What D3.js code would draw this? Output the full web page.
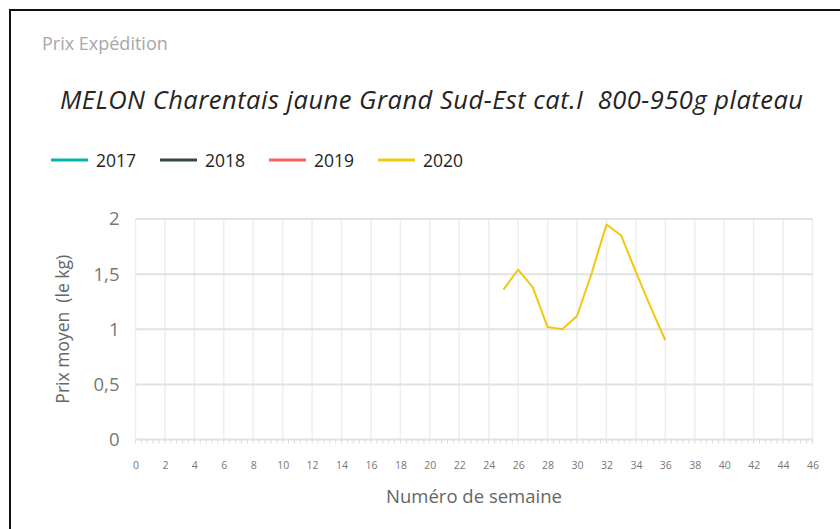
<!DOCTYPE html>
<html lang="fr">
<head>
    <meta charset="UTF-8">
    <title>Prix Expédition - Melon</title>
    <script src="https://d3js.org/d3.v7.min.js"></script>
    <style>
        body, html {
            margin: 0;
            padding: 0;
            background-color: #fff;
            font-family: 'Open Sans', 'Noto Sans', sans-serif;
        }
        svg { display: block; }
    </style>
</head>
<body>
    <svg id="chart" width="840" height="529"></svg>

    <script>
        // Legend / series
        const years = ['2017', '2018', '2019', '2020'];
        const yearColors = ['#01B8AA', '#374649', '#FD625E', '#F2C80F'];

        // only 2020 has values in the picture
        const weeks2020 = [25, 26, 27, 28, 29, 30, 31, 32, 33, 34, 35, 36];
        const prices2020 = [1.36, 1.54, 1.38, 1.02, 1.0, 1.12, 1.51, 1.95, 1.85, 1.52, 1.2, 0.9];

        const yTicks = [0, 0.5, 1, 1.5, 2];
        const xTicks = d3.range(0, 47, 2);

        const svg = d3.select('#chart');
        const width = 840, height = 529;
        const margin = { left: 135.5, right: 27.5, top: 219, bottom: 89 };

        // frame of the visual (top + left edge)
        svg.append('path')
            .attr('d', `M10,${height} L10,10 L${width},10`)
            .attr('fill', 'none')
            .attr('stroke', '#111')
            .attr('stroke-width', 2);

        svg.append('text')
            .attr('x', 42).attr('y', 50)
            .attr('font-size', 18)
            .attr('fill', '#a8a8a8')
            .text('Prix Expédition');

        svg.append('text')
            .attr('x', 60).attr('y', 109)
            .attr('font-size', 25.5)
            .attr('font-style', 'italic')
            .attr('fill', '#252423')
            .attr('textLength', 743)
            .attr('xml:space', 'preserve')
            .text('MELON Charentais jaune Grand Sud-Est cat.I  800-950g plateau');

        // legend
        const legend = svg.append('g').attr('transform', 'translate(51,160)');
        const item = legend.selectAll('g').data(years).join('g')
            .attr('transform', (d, i) => `translate(${i * 109},0)`);
        item.append('line')
            .attr('x1', 0).attr('x2', 37)
            .attr('stroke', (d, i) => yearColors[i])
            .attr('stroke-width', 3);
        item.append('text')
            .attr('x', 45).attr('y', 6.5)
            .attr('font-size', 17.5)
            .attr('fill', '#252423')
            .text(d => d);

        const x = d3.scaleLinear().domain([0, 46]).range([margin.left, width - margin.right]);
        const y = d3.scaleLinear().domain([0, 2]).range([height - margin.bottom - 0.5, margin.top]);

        // vertical grid
        svg.append('g').selectAll('line').data(xTicks).join('line')
            .attr('x1', d => x(d)).attr('x2', d => x(d))
            .attr('y1', y(2)).attr('y2', y(0))
            .attr('stroke', '#eeeeee')
            .attr('stroke-width', 1.5);

        // horizontal grid
        svg.append('g').selectAll('line').data(yTicks).join('line')
            .attr('x1', x(0)).attr('x2', x(46))
            .attr('y1', d => y(d)).attr('y2', d => y(d))
            .attr('stroke', '#e2e2e2')
            .attr('stroke-width', 2);

        // minor ticks under the x axis
        svg.append('g').selectAll('line').data(d3.range(0, 46.01, 0.4)).join('line')
            .attr('x1', d => x(d)).attr('x2', d => x(d))
            .attr('y1', y(0)).attr('y2', y(0) + 4)
            .attr('stroke', '#dcdcdc')
            .attr('stroke-width', 1);

        // y axis labels
        const yAxis = svg.append('g')
            .attr('transform', `translate(${margin.left - 13},0)`)
            .call(d3.axisLeft(y).tickValues(yTicks).tickSize(0).tickFormat(d => String(d).replace('.', ',')));
        yAxis.select('.domain').remove();
        yAxis.selectAll('text')
            .attr('font-family', "'Open Sans', sans-serif")
            .attr('font-size', 18.5)
            .attr('fill', '#777');

        // x axis labels
        const xAxis = svg.append('g')
            .attr('transform', `translate(0,${y(0) + 19})`)
            .call(d3.axisBottom(x).tickValues(xTicks).tickSize(0));
        xAxis.select('.domain').remove();
        xAxis.selectAll('text')
            .attr('font-family', "'Open Sans', sans-serif")
            .attr('font-size', 10.5)
            .attr('fill', '#777');

        svg.append('text')
            .attr('transform', `translate(69,${(y(0) + y(2)) / 2}) rotate(-90)`)
            .attr('text-anchor', 'middle')
            .attr('font-size', 17.5)
            .attr('fill', '#666')
            .attr('xml:space', 'preserve')
            .text('Prix moyen  (le kg)');

        svg.append('text')
            .attr('x', 474).attr('y', 503)
            .attr('text-anchor', 'middle')
            .attr('font-size', 18.5)
            .attr('fill', '#666')
            .text('Numéro de semaine');

        // 2020 line
        const line = d3.line()
            .x(d => x(d[0]))
            .y(d => y(d[1]));
        svg.append('path')
            .datum(d3.zip(weeks2020, prices2020))
            .attr('fill', 'none')
            .attr('stroke', yearColors[3])
            .attr('stroke-width', 2)
            .attr('stroke-linejoin', 'round')
            .attr('d', line);
    </script>
</body>
</html>
